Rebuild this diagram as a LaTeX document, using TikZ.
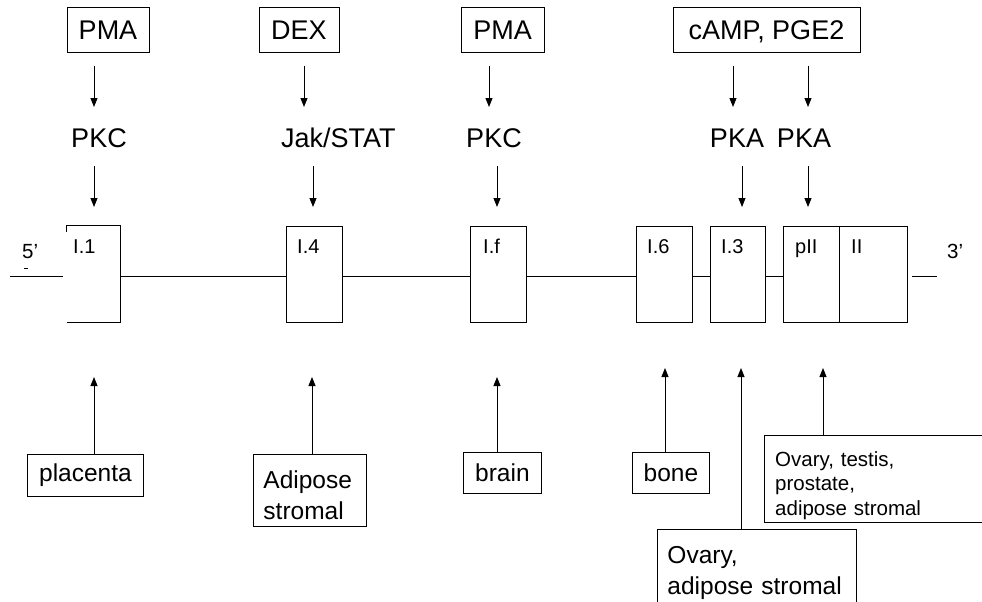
\documentclass[tikz,border=0pt]{standalone}
\usepackage{fontspec}
\setmainfont{Liberation Sans}
\usetikzlibrary{arrows.meta}
\newcommand\fbig{\fontsize{27}{32}\selectfont}
\newcommand\fmid{\fontsize{24.5}{31}\selectfont}
\newcommand\fsml{\fontsize{20.5}{24.5}\selectfont}
\newcommand\flab{\fontsize{20}{24}\selectfont}
\tikzset{
  ln/.style={line width=0.9pt},
  arr/.style={ln, -{Triangle[width=7pt,length=9pt]}},
  tx/.style={font=\fbig, inner sep=0pt, text height=19.5pt, text depth=0pt},
  topbox/.style={tx, draw, ln, minimum height=45pt},
  exon/.style={draw, ln, anchor=north west, minimum width=56pt, minimum height=96pt, inner sep=0pt},
  exlab/.style={font=\flab, anchor=base west, inner sep=0pt},
  tissue/.style={draw, ln, font=\fmid, inner sep=0pt},
  tissuel/.style={draw, ln, font=\fmid, anchor=north west, align=left, inner xsep=10pt, inner ysep=0pt},
}
\begin{document}
\begin{tikzpicture}[x=1pt,y=-1pt]
\useasboundingbox (0,0) rectangle (982,602);
% top inducers
\node[topbox, minimum width=82pt] (pma1) at (108,29.5) {PMA};
\node[topbox, minimum width=80pt] (dex) at (299,29.5) {DEX};
\node[topbox, minimum width=83pt] (pma2) at (502.5,29.5) {PMA};
\node[topbox, minimum width=187pt] (camp) at (766.5,29.5) {cAMP, PGE2};
% kinases
\node[tx] (pkc1) at (99,138) {PKC};
\node[tx, anchor=west] (jak) at (281,138) {Jak/STAT};
\node[tx] (pkc2) at (494,138) {PKC};
\node[tx] (pka1) at (737,138) {PKA};
\node[tx] (pka2) at (804,138) {PKA};
% arrow coordinates (top)
\coordinate (a1s) at (94,66);  \coordinate (a1e) at (94,107);
\coordinate (a2s) at (94,166); \coordinate (a2e) at (94,207);
\coordinate (b1s) at (304,66); \coordinate (b1e) at (304,107);
\coordinate (b2s) at (313,166); \coordinate (b2e) at (313,207);
\coordinate (c1s) at (489,66); \coordinate (c1e) at (489,107);
\coordinate (c2s) at (497,166); \coordinate (c2e) at (497,207);
\coordinate (d1s) at (733,66); \coordinate (d1e) at (733,107);
\coordinate (e1s) at (808,66); \coordinate (e1e) at (808,107);
\coordinate (d2s) at (742,166); \coordinate (d2e) at (742,207);
\coordinate (e2s) at (808,166); \coordinate (e2e) at (808,207);
\foreach \s/\e in {a1s/a1e,a2s/a2e,b1s/b1e,b2s/b2e,c1s/c1e,c2s/c2e,d1s/d1e,e1s/e1e,d2s/d2e,e2s/e2e}
  \draw[arr] (\s) -- (\e);
% gene line
\coordinate (l0) at (10,276); \coordinate (l1) at (63,276);
\coordinate (r0) at (912,276); \coordinate (r1) at (937,276);
\draw[ln] (l0) -- (l1);
\draw[ln] (r0) -- (r1);
% exon I.1 (open on left)
\node[anchor=north west, minimum width=54pt, minimum height=97pt, inner sep=0pt] (e11) at (66,225) {};
\draw[ln] ([yshift=-7pt]e11.north west) -- (e11.north west) -- (e11.north east) -- (e11.south east) -- ([xshift=1pt]e11.south west);
\node[exlab] (t11) at (73,253) {I.1};
\node[exon] (e14) at (286,226) {};
\node[exlab] (t14) at (297,253) {I.4};
\node[exon] (e1f) at (470,226) {};
\node[exlab] (t1f) at (483,253) {I.f};
\node[exon] (e16) at (636,226) {};
\node[exlab] (t16) at (647,253) {I.6};
\node[exon, minimum width=55pt] (e13) at (710,226) {};
\node[exlab] (t13) at (721,253) {I.3};
\node[exon] (epii) at (783,226) {};
\node[exlab] (tpii) at (795,253) {pII};
\node[exon, minimum width=68pt] (eii) at (839,226) {};
\node[exlab] (tii) at (851,253) {II};
\draw[ln] (e11.east |- l0) -- (e14.west |- l0);
\draw[ln] (e14.east |- l0) -- (e1f.west |- l0);
\draw[ln] (e1f.east |- l0) -- (e16.west |- l0);
\draw[ln] (e16.east |- l0) -- (e13.west |- l0);
\draw[ln] (e13.east |- l0) -- (epii.west |- l0);
% 5' and 3'
\node[font=\fsml, anchor=base west, inner sep=0pt] (five) at (22,258) {5’};
\coordinate (m0) at (24,268); \coordinate (m1) at (28,268);
\draw[line width=0.8pt] (m0) -- (m1);
\node[font=\fsml, anchor=base west, inner sep=0pt] (three) at (947,258) {3’};
% tissues
\node[tissue, anchor=north west, minimum width=116pt, minimum height=42pt] (plac) at (27,454) {placenta};
\node[tissuel, minimum width=113pt, minimum height=72pt, text width=93pt] (adip) at (253,454) {\rule{0pt}{28pt}Adipose\\stromal};
\node[tissue, anchor=north west, minimum width=78pt, minimum height=41pt] (brain) at (463,452) {brain};
\node[tissue, anchor=north west, minimum width=77pt, minimum height=41pt] (bone) at (632,452) {bone};
\node[tissuel, minimum width=199pt, minimum height=73pt, text width=179pt] (ovad) at (657,529) {\rule{0pt}{32pt}Ovary,\\adipose stromal};
\node[font=\fsml, anchor=north west, align=left, inner xsep=11pt, inner ysep=0pt, minimum width=230pt, minimum height=87pt, text width=208pt] (ovte) at (764,435) {\rule{0pt}{28pt}Ovary, testis,\\prostate,\\adipose stromal};
\draw[ln] (ovte.north east) -- (ovte.north west) -- (ovte.south west) -- (ovte.south east);
% bottom arrows
\coordinate (p1) at (94,377);  \coordinate (p0) at (94,454);
\coordinate (q1) at (312,377); \coordinate (q0) at (312,454);
\coordinate (s1) at (497,377); \coordinate (s0) at (497,452);
\coordinate (u1) at (665,368); \coordinate (u0) at (665,452);
\coordinate (v1) at (741,368); \coordinate (v0) at (741,529);
\coordinate (w1) at (823,368); \coordinate (w0) at (823,435);
\foreach \s/\e in {p0/p1,q0/q1,s0/s1,u0/u1,v0/v1,w0/w1}
  \draw[arr] (\s) -- (\e);
\end{tikzpicture}
\end{document}
